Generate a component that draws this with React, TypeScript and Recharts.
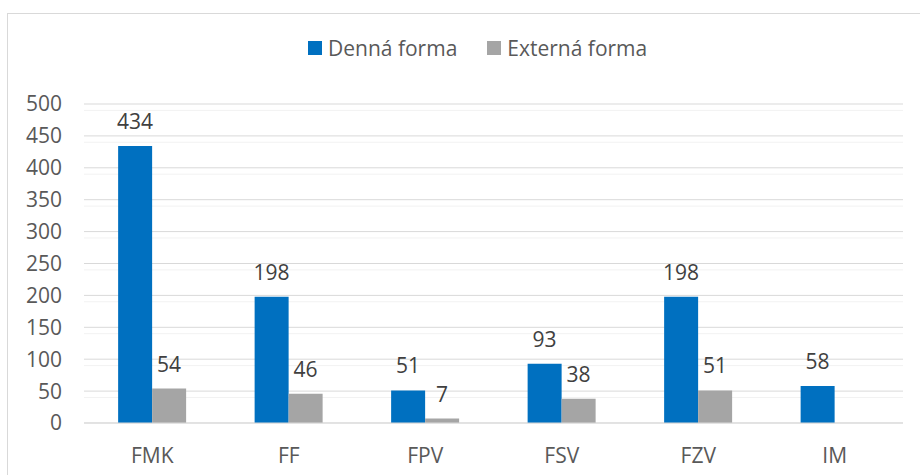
import React from 'react';
import { BarChart, Bar, XAxis, YAxis, CartesianGrid, LabelList } from 'recharts';

const categories = ['FMK', 'FF', 'FPV', 'FSV', 'FZV', 'IM'];
const dennaForma = [434, 198, 51, 93, 198, 58];
const externaForma: (number | null)[] = [54, 46, 7, 38, 51, null];
const yTicks = [0, 50, 100, 150, 200, 250, 300, 350, 400, 450, 500];

const BLUE = '#0070C0';
const GRAY = '#A5A5A5';
const FONT = '"Open Sans", sans-serif';

const data = categories.map((name, i) => ({
    name,
    denna: dennaForma[i],
    externa: externaForma[i],
}));

// light minor lines every 10 between the major ones
const minorTicks: number[] = [];
yTicks.slice(0, -1).forEach(t => {
    [10, 20, 30, 40].forEach(s => minorTicks.push(t + s));
});

const LegendItem: React.FC<{ color: string; label: string }> = ({ color, label }) => (
    <div style={{ display: 'flex', alignItems: 'center', marginRight: 30 }}>
        <span style={{ width: 14, height: 14, background: color, display: 'inline-block', marginRight: 6 }} />
        <span style={{ fontSize: 21, color: '#595959' }}>{label}</span>
    </div>
);

const App: React.FC = () => {
    return (
        <div style={{ position: 'absolute', left: 0, top: 0, width: 920, height: 475, overflow: 'hidden', background: '#fff', fontFamily: FONT }}>
            <div style={{ position: 'absolute', left: 7, top: 13, width: 940, height: 500, border: '1px solid #D9D9D9' }} />
            <div style={{ position: 'absolute', left: 308, top: 34, display: 'flex' }}>
                <LegendItem color={BLUE} label="Denná forma" />
                <LegendItem color={GRAY} label="Externá forma" />
            </div>
            <div style={{ position: 'absolute', left: 0, top: 0 }}>
                <BarChart width={920} height={475} data={data} margin={{ top: 104, right: 17, left: 0, bottom: 0 }}
                    barCategoryGap="25%" barGap={0}>
                    <CartesianGrid vertical={false} horizontalValues={minorTicks} stroke="#F2F2F2" />
                    <CartesianGrid vertical={false} horizontalValues={yTicks} stroke="#D9D9D9" />
                    <XAxis dataKey="name" height={52} tickLine={false} tickSize={0} tickMargin={25}
                        axisLine={{ stroke: '#D9D9D9' }} tick={{ fill: '#595959', fontSize: 21, fontFamily: FONT }} />
                    <YAxis width={84} domain={[0, 500]} ticks={yTicks} axisLine={false} tickLine={false}
                        tickSize={0} tickMargin={22} tick={{ fill: '#595959', fontSize: 21, fontFamily: FONT }} />
                    <Bar dataKey="denna" fill={BLUE} isAnimationActive={false}>
                        <LabelList dataKey="denna" position="top" offset={17} fill="#404040" fontSize={21} fontFamily={FONT} />
                    </Bar>
                    <Bar dataKey="externa" fill={GRAY} isAnimationActive={false}>
                        <LabelList dataKey="externa" position="top" offset={17} fill="#404040" fontSize={21} fontFamily={FONT} />
                    </Bar>
                </BarChart>
            </div>
        </div>
    );
};

export default App;
